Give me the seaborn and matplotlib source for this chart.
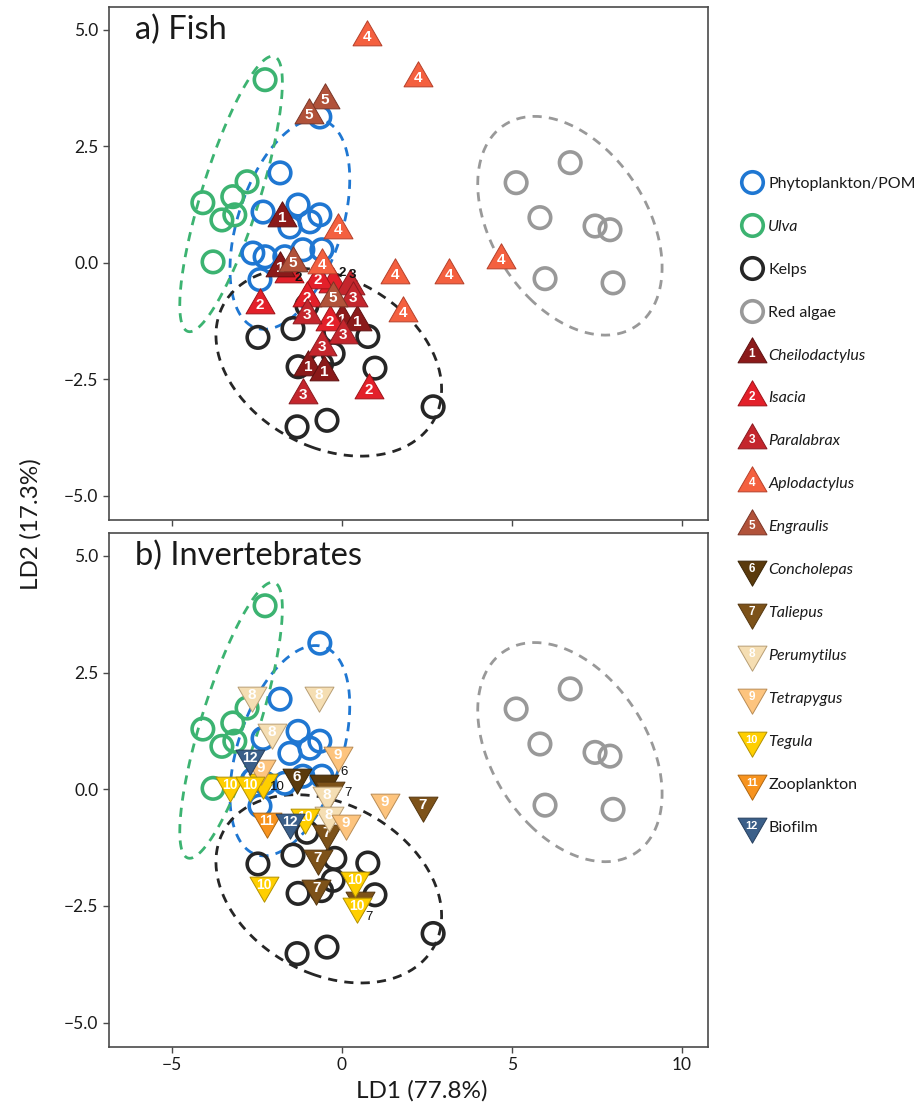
import numpy as np
import matplotlib
matplotlib.use("Agg")
import matplotlib.pyplot as plt
import seaborn as sns
from matplotlib.path import Path
from matplotlib.lines import Line2D
from matplotlib.text import Text
from matplotlib.legend_handler import HandlerBase

# ---------------- food sources (identical in both panels) ----------------
phyto_x = [-0.65, -1.82, -2.32, -1.29, -1.53, -0.94, -0.65, -2.62, -2.26, -1.68, -1.15, -0.59, -2.41]
phyto_y = [3.13, 1.93, 1.09, 1.24, 0.77, 0.88, 1.03, 0.21, 0.13, 0.13, 0.28, 0.28, -0.36]
ulva_x = [-2.26, -2.79, -4.09, -3.21, -3.53, -3.15, -3.79]
ulva_y = [3.93, 1.74, 1.29, 1.42, 0.92, 1.03, 0.02]
kelp_x = [-2.47, -1.44, -1.03, -0.21, 0.76, -1.29, -0.60, -0.26, 0.97, 2.68, -0.44, -1.32]
kelp_y = [-1.60, -1.41, -0.92, -1.48, -1.58, -2.23, -2.17, -1.95, -2.26, -3.09, -3.38, -3.52]
red_x = [5.12, 6.71, 5.82, 7.44, 7.88, 5.97, 7.97]
red_y = [1.72, 2.15, 0.97, 0.79, 0.71, -0.34, -0.43]

source_names = ["Phytoplankton/POM", "Ulva", "Kelps", "Red algae"]
source_colors = ["#1f77d2", "#3cb371", "#262626", "#999999"]
source_xs = [phyto_x, ulva_x, kelp_x, red_x]
source_ys = [phyto_y, ulva_y, kelp_y, red_y]

# ---------------- fish consumers ----------------
fish_names = ["Cheilodactylus", "Isacia", "Paralabrax", "Aplodactylus", "Engraulis"]
fish_ids = ["1", "2", "3", "4", "5"]
fish_colors = ["#8b1a1a", "#e3202a", "#c4262d", "#f4603f", "#b1523a"]
fish_edges = ["#5e1010", "#9e1318", "#8a1a1f", "#b5402a", "#7a3526"]
fish_x = [
    [-1.76, -1.82, 0.00, 0.44, -1.00, -0.53],
    [-2.41, -0.71, -1.03, -0.35, 0.79],
    [0.32, -1.03, 0.03, -0.59, -1.15],
    [0.74, 2.24, -0.12, -0.59, 1.56, 3.15, 1.79, 4.68],
    [-0.50, -0.97, -1.44, -0.26],
]
fish_y = [
    [0.97, -0.11, -1.22, -1.27, -2.23, -2.34],
    [-0.90, -0.36, -0.75, -1.27, -2.73],
    [-0.75, -1.12, -1.55, -1.80, -2.83],
    [4.85, 3.97, 0.71, -0.04, -0.26, -0.26, -1.07, 0.06],
    [3.50, 3.18, 0.00, -0.75],
]
# overlapped fish samples whose numbers are printed beside them
fish_extra_group = [1, 1, 2]
fish_extra_x = [-1.55, -0.25, 0.25]
fish_extra_y = [-0.25, -0.45, -0.50]
fish_extra_tx = [-1.29, 0.00, 0.32]
fish_extra_ty = [-0.32, -0.21, -0.26]

# ---------------- invertebrate consumers ----------------
inv_names = ["Concholepas", "Taliepus", "Perumytilus", "Tetrapygus", "Tegula", "Zooplankton", "Biofilm"]
inv_ids = ["6", "7", "8", "9", "10", "11", "12"]
inv_colors = ["#5a3a0c", "#7d5219", "#f5deb3", "#fdc47e", "#ffcf00", "#f7931e", "#3b5f89"]
inv_edges = ["#3a2506", "#553710", "#b89e74", "#b98c55", "#b39100", "#b0660f", "#263f5e"]
inv_x = [
    [-1.32],
    [2.38, -0.44, -0.71, -0.76],
    [-2.65, -0.68, -2.06, -0.44, -0.38],
    [-0.12, -2.38, 1.26, 0.12],
    [-3.29, -2.71, -1.09, -2.29, 0.38, 0.44],
    [-2.21],
    [-2.71, -1.53],
]
inv_y = [
    [0.26],
    [-0.34, -0.94, -1.48, -2.12],
    [2.02, 2.02, 1.22, -0.13, -0.56],
    [0.73, 0.45, -0.28, -0.73],
    [0.09, 0.09, -0.60, -2.06, -1.95, -2.49],
    [-0.67],
    [0.67, -0.71],
]
inv_extra_group = [4, 0, 1, 1]
inv_extra_x = [-2.32, -0.53, -0.35, 0.53]
inv_extra_y = [0.15, 0.13, -0.02, -2.38]
inv_extra_tx = [-1.91, 0.06, 0.18, 0.79]
inv_extra_ty = [0.04, 0.36, -0.09, -2.73]

italic_labels = {"Ulva", "Cheilodactylus", "Isacia", "Paralabrax", "Aplodactylus", "Engraulis",
                 "Concholepas", "Taliepus", "Perumytilus", "Tetrapygus", "Tegula"}

# ---------------- style ----------------
sns.set_theme(style="ticks")
plt.rcParams["font.family"] = ["Lato", "DejaVu Sans"]
plt.rcParams["axes.edgecolor"] = "#4a4a4a"
plt.rcParams["axes.linewidth"] = 1.2
plt.rcParams["xtick.color"] = "#4a4a4a"
plt.rcParams["ytick.color"] = "#4a4a4a"
plt.rcParams["xtick.labelcolor"] = "#1a1a1a"
plt.rcParams["ytick.labelcolor"] = "#1a1a1a"

UP = Path([(-1, -0.577), (1, -0.577), (0, 1.155), (-1, -0.577)], closed=True)
DOWN = Path([(-1, 0.577), (1, 0.577), (0, -1.155), (-1, 0.577)], closed=True)
TRI_S = 580
CIRC_S = 240
CIRC_LW = 2.6
NUM_FONT = ["Liberation Sans", "DejaVu Sans"]
K95 = np.sqrt(5.991)  # 95% chi-square radius, 2 d.f.


def ellipse_path(x, y, n=240):
    pts = np.column_stack([x, y])
    mu = pts.mean(axis=0)
    vals, vecs = np.linalg.eigh(np.cov(pts, rowvar=False))
    t = np.linspace(0, 2 * np.pi, n)
    circ = np.column_stack([np.cos(t), np.sin(t)]) * np.sqrt(vals) * K95
    e = circ @ vecs.T + mu
    return e[:, 0], e[:, 1]


def draw_sources(ax):
    for xs, ys, col in zip(source_xs, source_ys, source_colors):
        ex, ey = ellipse_path(xs, ys)
        ax.plot(ex, ey, color=col, lw=2.0, ls=(0, (3.3, 2.6)), zorder=2)
        sns.scatterplot(x=xs, y=ys, ax=ax, marker="o", s=CIRC_S, facecolor="none",
                        edgecolor=col, linewidth=CIRC_LW, legend=False, zorder=3)


def draw_consumers(ax, xs_list, ys_list, ids, cols, edges, marker,
                   ex_g, ex_x, ex_y, ex_tx, ex_ty, ext_weight):
    base = 4.0
    # overlapped samples first, labelled alongside
    for g, x, y, tx, ty in zip(ex_g, ex_x, ex_y, ex_tx, ex_ty):
        sns.scatterplot(x=[x], y=[y], ax=ax, marker=marker, s=TRI_S, color=cols[g],
                        edgecolor=edges[g], linewidth=0.7, legend=False, zorder=base)
        ax.text(tx, ty, ids[g], ha="center", va="center", fontsize=9.5, color="#111111",
                fontweight=ext_weight, family=NUM_FONT, zorder=9)
    for i, (xs, ys) in enumerate(zip(xs_list, ys_list)):
        z = base + 0.1 + i * 0.1
        sns.scatterplot(x=xs, y=ys, ax=ax, marker=marker, s=TRI_S, color=cols[i],
                        edgecolor=edges[i], linewidth=0.7, legend=False, zorder=z)
        for x, y in zip(xs, ys):
            ax.text(x, y, ids[i], ha="center", va="center",
                    fontsize=11 if len(ids[i]) == 1 else 10,
                    color="white", fontweight="bold", family=NUM_FONT, zorder=z + 0.05)


fig = plt.figure(figsize=(9.21, 11.15), dpi=100)
ax1 = fig.add_axes([0.1183, 0.5336, 0.6504, 0.4601])
ax2 = fig.add_axes([0.1183, 0.0610, 0.6504, 0.4610])

draw_sources(ax1)
draw_consumers(ax1, fish_x, fish_y, fish_ids, fish_colors, fish_edges, UP,
               fish_extra_group, fish_extra_x, fish_extra_y, fish_extra_tx, fish_extra_ty, "bold")
draw_sources(ax2)
draw_consumers(ax2, inv_x, inv_y, inv_ids, inv_colors, inv_edges, DOWN,
               inv_extra_group, inv_extra_x, inv_extra_y, inv_extra_tx, inv_extra_ty, "normal")

for ax, title in ((ax1, "a) Fish"), (ax2, "b) Invertebrates")):
    ax.set_xlim(-6.85, 10.76)
    ax.set_ylim(-5.52, 5.49)
    ax.set_xticks([-5, 0, 5, 10])
    ax.set_yticks([-5, -2.5, 0, 2.5, 5])
    ax.set_yticklabels(["\u22125.0", "\u22122.5", "0.0", "2.5", "5.0"])
    ax.tick_params(length=4, width=1, labelsize=12.5)
    ax.set_xlabel("")
    ax.set_ylabel("")
    ax.text(0.043, 0.955, title, transform=ax.transAxes, ha="left", va="center",
            fontsize=23.5, color="#1a1a1a")
ax1.set_xticklabels([])
ax2.set_xticklabels(["\u22125", "0", "5", "10"])

fig.text(0.458, 0.022, "LD1 (77.8%)", ha="center", va="center", fontsize=17.5, color="#1a1a1a")
fig.text(0.033, 0.530, "LD2 (17.3%)", ha="center", va="center", rotation=90, fontsize=17.5,
         color="#1a1a1a")


# ---------------- legend ----------------
class Glyph:
    def __init__(self, marker, face, edge, lw, size, num=None):
        self.marker, self.face, self.edge, self.lw, self.size, self.num = marker, face, edge, lw, size, num


class GlyphHandler(HandlerBase):
    def create_artists(self, legend, h, xdescent, ydescent, width, height, fontsize, trans):
        cx = 0.5 * width - xdescent
        cy = 0.5 * height - ydescent
        arts = [Line2D([cx], [cy], linestyle="none", marker=h.marker, markersize=h.size,
                       markerfacecolor=h.face, markeredgecolor=h.edge, markeredgewidth=h.lw,
                       transform=trans)]
        if h.num:
            arts.append(Text(cx, cy, h.num, ha="center", va="center", color="white",
                             fontsize=8.5 if len(h.num) == 1 else 8, fontweight="bold",
                             family=NUM_FONT, transform=trans))
        return arts


handles, labels = [], []
for name, col in zip(source_names, source_colors):
    handles.append(Glyph("o", "none", col, CIRC_LW, np.sqrt(CIRC_S)))
    labels.append(name)
for name, num, col, ed in zip(fish_names, fish_ids, fish_colors, fish_edges):
    handles.append(Glyph(UP, col, ed, 0.7, np.sqrt(TRI_S), num))
    labels.append(name)
for name, num, col, ed in zip(inv_names, inv_ids, inv_colors, inv_edges):
    handles.append(Glyph(DOWN, col, ed, 0.7, np.sqrt(TRI_S), num))
    labels.append(name)

leg = fig.legend(handles, labels, handler_map={Glyph: GlyphHandler()},
                 loc="upper left", bbox_to_anchor=(0.801, 0.8416), frameon=False,
                 fontsize=11.5, borderpad=0, borderaxespad=0, handlelength=1.75,
                 handletextpad=0.15, labelspacing=1.8)
for txt in leg.get_texts():
    if txt.get_text() in italic_labels:
        txt.set_fontstyle("italic")
    txt.set_color("#1a1a1a")

fig.savefig("out.png", dpi=100)
